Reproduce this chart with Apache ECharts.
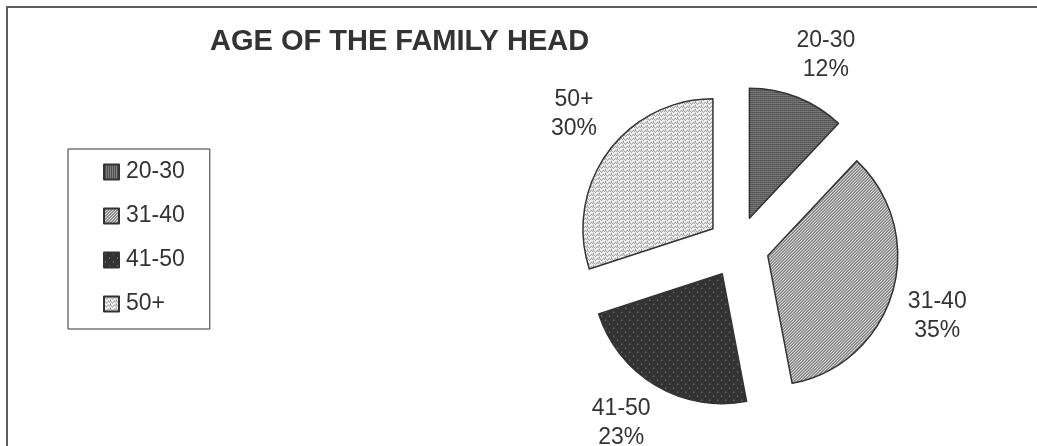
<!DOCTYPE html>
<html>
<head>
<meta charset="utf-8">
<script src="https://cdn.jsdelivr.net/npm/echarts@6/dist/echarts.min.js"></script>
<style>
html,body{margin:0;padding:0;background:#fff;}
#chart{width:1037px;height:446px;}
</style>
</head>
<body>
<div id="chart"></div>
<script>
var categories = ['20-30', '31-40', '41-50', '50+'];
var values = [12, 35, 23, 30];
var titleText = 'AGE OF THE FAMILY HEAD';

function makeTile(w, h, bg, pixels, fg) {
  var c = document.createElement('canvas');
  c.width = w; c.height = h;
  var ctx = c.getContext('2d');
  ctx.fillStyle = bg; ctx.fillRect(0, 0, w, h);
  ctx.fillStyle = fg;
  pixels.forEach(function (p) { ctx.fillRect(p[0], p[1], 1, 1); });
  return { image: c, repeat: 'repeat' };
}
var patterns = [
  makeTile(2, 2, '#4f4f4f', [[0, 0]], '#b0b0b0'),
  makeTile(3, 3, '#dedede', [[2, 0], [1, 1], [0, 2]], '#3c3c3c'),
  makeTile(8, 8, '#333333', [[1, 1], [5, 5]], '#9a9a9a'),
  makeTile(6, 4, '#f2f2f2', [[0, 0], [1, 1], [2, 2], [3, 1], [4, 0], [5, 1], [0, 3]], '#8a8a8a')
];

var CX = 738, CY = 247, R = 130, OFFSET = 31;

var chart = echarts.init(document.getElementById('chart'), null, { renderer: 'canvas' });
var font = '"Liberation Sans", Arial, sans-serif';
chart.setOption({
  animation: false,
  backgroundColor: '#ffffff',
  title: {
    text: titleText,
    left: 205, top: 22,
    textStyle: { fontFamily: font, fontSize: 29, fontWeight: 'bold', color: '#333333' }
  },
  graphic: [{
    type: 'rect', silent: true, z: -1,
    shape: { x: 7, y: 7, width: 1200, height: 600 },
    style: { fill: null, stroke: '#5e5e5e', lineWidth: 2 }
  }],
  legend: {
    orient: 'vertical',
    left: 68, top: 149,
    padding: [11, 25, 13, 35],
    itemGap: 20,
    itemWidth: 15, itemHeight: 15,
    icon: 'rect',
    borderColor: '#333333', borderWidth: 1,
    selectedMode: false,
    textStyle: { fontFamily: font, fontSize: 23, color: '#333333', lineHeight: 24, padding: [0, 0, 0, 2] },
    data: categories
  },
  series: [{
    type: 'pie',
    center: [CX, CY],
    radius: R,
    startAngle: 90,
    clockwise: true,
    selectedMode: 'multiple',
    selectedOffset: OFFSET,
    avoidLabelOverlap: false,
    emphasis: { disabled: true, scale: false },
    itemStyle: { borderColor: '#333333', borderWidth: 1.5 },
    select: { itemStyle: { borderColor: '#333333', borderWidth: 1.5 } },
    labelLine: { show: false },
    label: { show: false },
    data: categories.map(function (c, i) {
      return { name: c, value: values[i], selected: true, itemStyle: { color: patterns[i] } };
    })
  }, {
    // invisible ring that only carries the outside data labels
    type: 'pie',
    center: [CX, CY],
    radius: [198, 218],
    startAngle: 87,
    clockwise: true,
    silent: true,
    avoidLabelOverlap: false,
    emphasis: { disabled: true, scale: false },
    itemStyle: { color: 'rgba(0,0,0,0)', borderWidth: 0 },
    labelLine: { show: false },
    label: {
      show: true,
      position: 'inside',
      formatter: '{b}\n{d}%',
      fontFamily: font, fontSize: 23, color: '#333333', lineHeight: 29,
      align: 'center', verticalAlign: 'middle'
    },
    data: categories.map(function (c, i) {
      return { name: c, value: values[i] };
    })
  }]
});
</script>
</body>
</html>
